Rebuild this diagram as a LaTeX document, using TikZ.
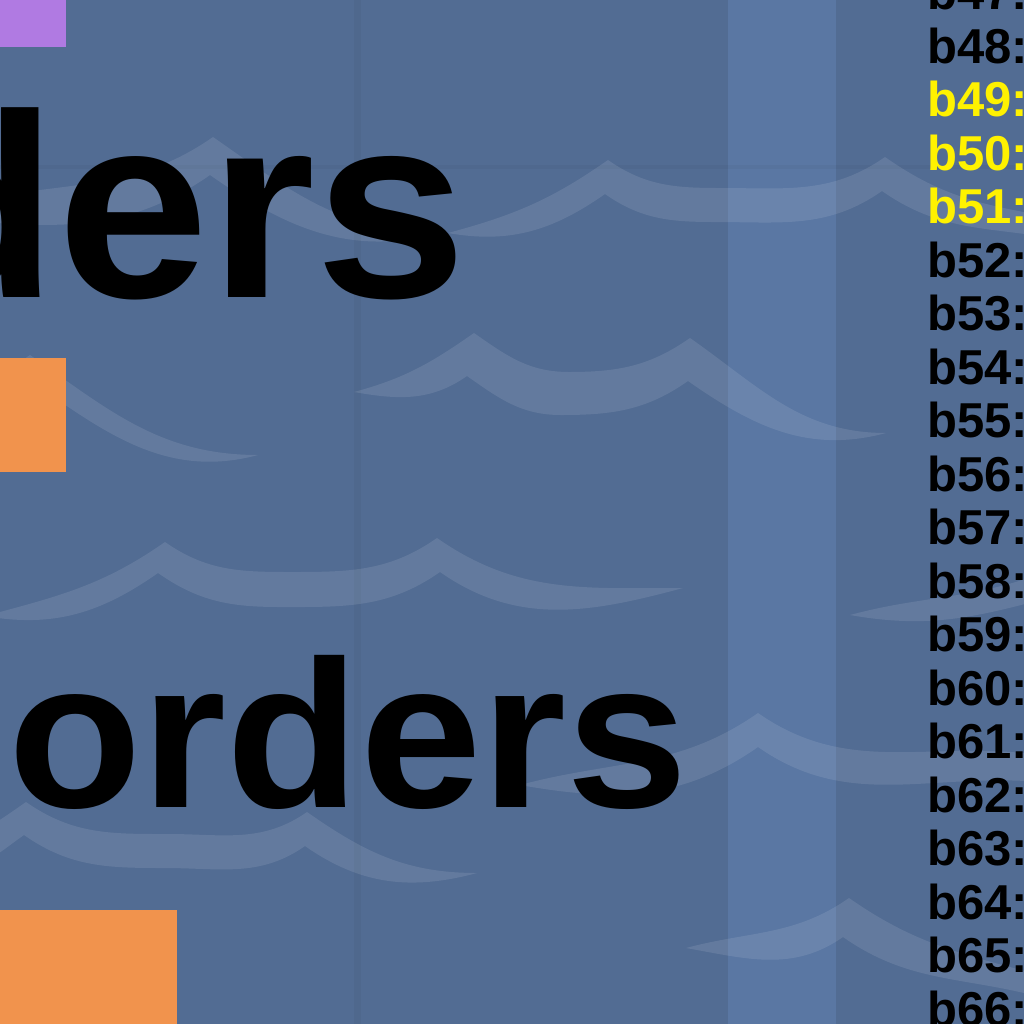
\documentclass[tikz,border=0pt]{standalone}
\usepackage{fontspec}
\setmainfont{Liberation Sans}
\newfontfamily\widesans[FakeStretch=1.04]{Liberation Sans}

\definecolor{seablue}{RGB}{82,108,147}
\definecolor{laneblue}{RGB}{90,119,163}
\definecolor{tagpurple}{RGB}{176,122,226}
\definecolor{tagorange}{RGB}{241,147,77}

\begin{document}
\begin{tikzpicture}[x=0.5pt,y=0.5pt,
    wave/.style={fill=white,fill opacity=0.1},
    bigword/.style={anchor=base west,inner sep=0pt},
    rowlabel/.style={anchor=base west,inner sep=0pt,font=\bfseries\fontsize{24.5}{24.5}\selectfont}]
     \useasboundingbox (0,0) rectangle (1024,-1024);
     \clip (0,0) rectangle (1024,-1024);
     \fill[seablue] (0,0) rectangle (1024,-1024);
     \fill[laneblue] (728,0) rectangle (836,-1024);
     \fill[black,opacity=0.035] (354,0) rectangle (361,-1024);
     \fill[black,opacity=0.03] (0,-165) rectangle (1024,-169);
     % waves
     \fill[wave] (-40,-205) to[out=15,in=-145] (213,-137) to[out=-35,in=180] (440,-233)
       to[out=-165,in=-35] (210,-175) to[out=-145,in=-5] (-40,-220) -- cycle;
     \fill[wave] (448,-233) to[out=15,in=-145] (608,-160) to[out=-35,in=180] (720,-188)
       to[out=0,in=-145] (885,-157) to[out=-35,in=170] (1040,-215) -- (1040,-236)
       to[out=172,in=-35] (882,-191) to[out=-145,in=0] (715,-222)
       to[out=180,in=-35] (605,-194) to[out=-145,in=-10] (448,-233) -- cycle;
     \fill[wave] (-60,-400) to[out=20,in=-145] (30,-355) to[out=-35,in=180] (258,-455)
       to[out=-165,in=-35] (28,-379) to[out=-145,in=-5] (-60,-420) -- cycle;
     \fill[wave] (354,-392) to[out=15,in=-145] (474,-333) to[out=-35,in=180] (569,-372)
       to[out=0,in=-145] (690,-338) to[out=-35,in=180] (886,-433)
       to[out=-165,in=-35] (688,-381) to[out=-145,in=0] (561,-415)
       to[out=180,in=-35] (467,-376) to[out=-145,in=-10] (354,-392) -- cycle;
     \fill[wave] (-15,-616) to[out=15,in=-145] (165,-542) to[out=-35,in=180] (290,-572)
       to[out=0,in=-145] (437,-538) to[out=-35,in=180] (683,-588)
       to[out=-165,in=-35] (440,-572) to[out=-145,in=0] (280,-607)
       to[out=180,in=-35] (158,-573) to[out=-145,in=-10] (-15,-616) -- cycle;
     \fill[wave] (850,-615) to[out=15,in=-160] (1040,-574) -- (1040,-600)
       to[out=-165,in=-10] (850,-615) -- cycle;
     \fill[wave] (520,-785) to[out=15,in=-145] (758,-713) to[out=-35,in=172] (1040,-755)
       -- (1040,-782) to[out=175,in=-35] (758,-747) to[out=-145,in=-10] (520,-785) -- cycle;
     \fill[wave] (-60,-850) to[out=20,in=-145] (26,-802) to[out=-35,in=180] (168,-834)
       to[out=0,in=-145] (307,-812) to[out=-35,in=180] (477,-873)
       to[out=-165,in=-35] (305,-846) to[out=-145,in=0] (165,-868)
       to[out=180,in=-35] (24,-835) to[out=-145,in=-5] (-60,-872) -- cycle;
     \fill[wave] (686,-948) to[out=15,in=-145] (849,-898) to[out=-35,in=165] (1040,-975)
       -- (1040,-997) to[out=165,in=-35] (843,-937) to[out=-145,in=-10] (686,-948) -- cycle;
     % tags
     \fill[tagpurple] (0,0) rectangle (66,-47);
     \fill[tagorange] (0,-358) rectangle (66,-472);
     \fill[tagorange] (0,-910) rectangle (177,-1024);
     % words
     \node[bigword,font=\widesans\bfseries\fontsize{131}{131}\selectfont] (ders) at (-109,-297) {ders};
     \node[bigword,font=\widesans\bfseries\fontsize{105}{105}\selectfont] (orders) at (8,-807) {orders};
     % list
     \foreach \n in {47,48,52,53,...,66} {
      \node[rowlabel] (b\n) at (927,{-9.5-53.5*(\n-47)}) {b\n:};
     }
     \foreach \n in {49,50,51} {
      \node[rowlabel,text=yellow] (b\n) at (927,{-9.5-53.5*(\n-47)}) {b\n:};
     }
    \end{tikzpicture}
\end{document}
